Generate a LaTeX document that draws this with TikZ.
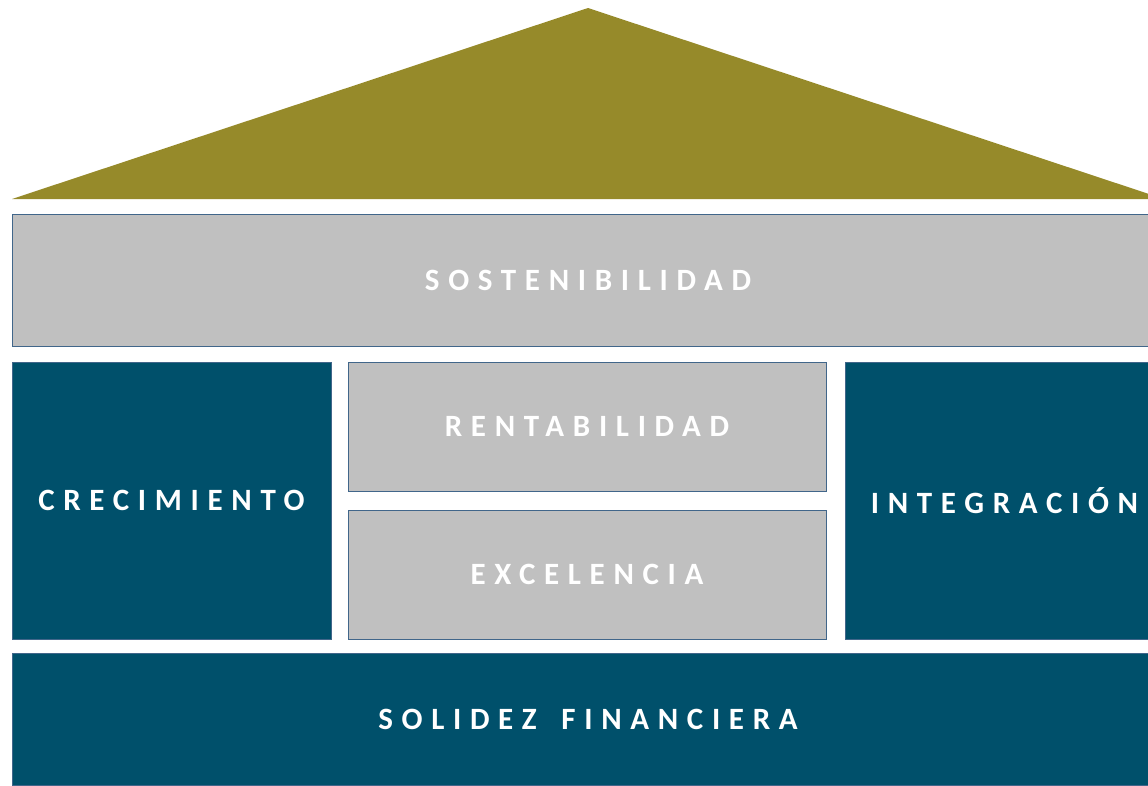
\documentclass[tikz,border=0pt]{standalone}
\usepackage{fontspec}
\setmainfont{Carlito}
\newfontfamily\pillarfont[LetterSpace=28]{Carlito}

\definecolor{roofolive}{HTML}{968A2A}
\definecolor{pillargray}{HTML}{C0C0C0}
\definecolor{pillarteal}{HTML}{00506B}
\definecolor{pillaredge}{HTML}{41668A}

\begin{document}
\begin{tikzpicture}[x=1pt, y=-1pt,
  pillar/.style={draw=pillaredge, line width=0.8pt, text=white, inner sep=0pt,
    font=\pillarfont\fontsize{31}{33}\selectfont\bfseries},
  graybox/.style={pillar, fill=pillargray},
  tealbox/.style={pillar, fill=pillarteal}]

\useasboundingbox (0,0) rectangle (1148,785);
\clip (0,0) rectangle (1148,785);

% roof
\fill[roofolive] (12,199) -- (588,8) -- (1164,199) -- cycle;

\node[graybox, minimum width=1152pt, minimum height=132pt] (sost) at (588,280) {SOSTENIBILIDAD};

% middle row
\node[tealbox, minimum width=319pt, minimum height=277pt] (crec) at (171.5,500.5) {CRECIMIENTO};
\node[graybox, minimum width=478pt, minimum height=129pt] (rent) at (587,426.5) {RENTABILIDAD};
\node[graybox, minimum width=478pt, minimum height=129pt] (exce) at (587,574.5) {EXCELENCIA};
\node[tealbox, minimum width=319pt, minimum height=277pt] (integ) at (1004.5,500.5) {INTEGRACIÓN};

% base
\node[tealbox, minimum width=1152pt, minimum height=132pt] (solid) at (588,719) {SOLIDEZ\hspace{9pt} FINANCIERA};

\end{tikzpicture}
\end{document}
